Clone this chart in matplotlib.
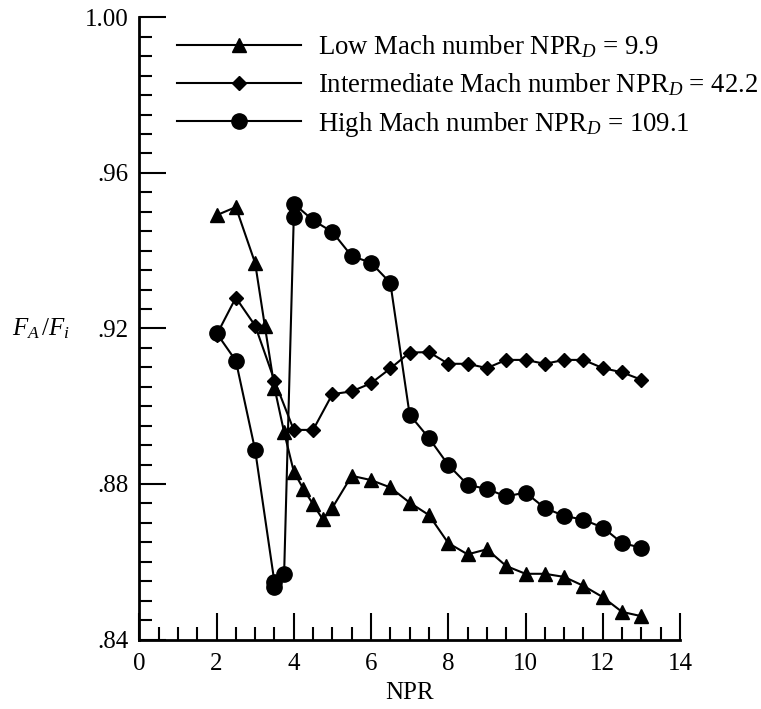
import numpy as np
import matplotlib
matplotlib.use('Agg')
import matplotlib.pyplot as plt
from matplotlib.ticker import MultipleLocator

### Data (NPR vs F_A/F_i)
npr_low = [2, 2.5, 3, 3.25, 3.5, 3.75, 4, 4.25, 4.5, 4.75, 5, 5.5, 6, 6.5,
           7, 7.5, 8, 8.5, 9, 9.5, 10, 10.5, 11, 11.5, 12, 12.5, 13]
fa_low = [.9491, .9512, .9368, .9207, .9048, .8933, .8832, .8787, .8748, .8709,
          .8739, .8821, .8810, .8791, .8752, .8720, .8648, .8619, .8632, .8589,
          .8569, .8569, .8561, .8538, .8509, .8471, .8460]

npr_mid = [2, 2.5, 3, 3.5, 4, 4.5, 5, 5.5, 6, 6.5, 7, 7.5, 8, 8.5, 9, 9.5,
           10, 10.5, 11, 11.5, 12, 12.5, 13]
fa_mid = [.9183, .9279, .9207, .9066, .8939, .8939, .9031, .9038, .9059, .9097,
          .9138, .9139, .9109, .9109, .9098, .9119, .9119, .9109, .9119, .9119,
          .9098, .9087, .9068]

npr_high = [2, 2.5, 3, 3.5, 3.5, 3.75, 4, 4, 4.5, 5, 5.5, 6, 6.5, 7, 7.5, 8,
            8.5, 9, 9.5, 10, 10.5, 11, 11.5, 12, 12.5, 13]
fa_high = [.9188, .9117, .8887, .8547, .8534, .8568, .9486, .9521, .9478, .9448,
           .9386, .9369, .9317, .8978, .8918, .8849, .8798, .8787, .8768, .8778,
           .8738, .8718, .8708, .8688, .8648, .8636]

labels = [r'Low Mach number NPR$_D$ = 9.9',
          r'Intermediate Mach number NPR$_D$ = 42.2',
          r'High Mach number NPR$_D$ = 109.1']

y_ticks = [.84, .88, .92, .96, 1.00]
y_ticklabels = ['.84', '.88', '.92', '.96', '1.00']

### Style
plt.rcParams['font.family'] = ['Liberation Serif', 'DejaVu Serif']
plt.rcParams['mathtext.fontset'] = 'custom'
plt.rcParams['mathtext.rm'] = 'Liberation Serif'
plt.rcParams['mathtext.it'] = 'Liberation Serif:italic'
plt.rcParams['font.size'] = 18

fig = plt.figure(figsize=(7.61, 7.09), dpi=100)
ax = fig.add_axes([0.1830, 0.0980, 0.7106, 0.8776])

lw = 1.5
ax.plot(npr_low, fa_low, color='black', lw=lw, marker='^', ms=9.5, label=labels[0])
ax.plot(npr_mid, fa_mid, color='black', lw=lw, marker='D', ms=7.5, label=labels[1])
ax.plot(npr_high, fa_high, color='black', lw=lw, marker='o', ms=11, label=labels[2])

ax.set_xlim(0, 14)
ax.set_ylim(.84, 1.00)
ax.xaxis.set_major_locator(MultipleLocator(2))
ax.xaxis.set_minor_locator(MultipleLocator(0.5))
ax.set_yticks(y_ticks)
ax.set_yticklabels(y_ticklabels)
ax.yaxis.set_minor_locator(MultipleLocator(0.005))

for s in ['top', 'right']:
    ax.spines[s].set_visible(False)
for s in ['left', 'bottom']:
    ax.spines[s].set_linewidth(2.0)

ax.tick_params(which='major', direction='in', length=19.5, width=1.5,
               labelsize=18, pad=8)
ax.tick_params(axis='x', which='major', pad=9.5)
ax.tick_params(which='minor', direction='in', length=9.6, width=1.5)

ax.set_xlabel('NPR', fontsize=18, labelpad=5)
fig.text(0.016, 0.537, r'$F_A\,/F_i$', fontsize=18, ha='left', va='center')

leg = ax.legend(loc='upper left', bbox_to_anchor=(0.069, 0.974), frameon=False,
                borderpad=0, borderaxespad=0, handlelength=4.66,
                handletextpad=0.6, labelspacing=0.42, numpoints=1,
                fontsize=19.3)

fig.savefig('out.png', dpi=100)
